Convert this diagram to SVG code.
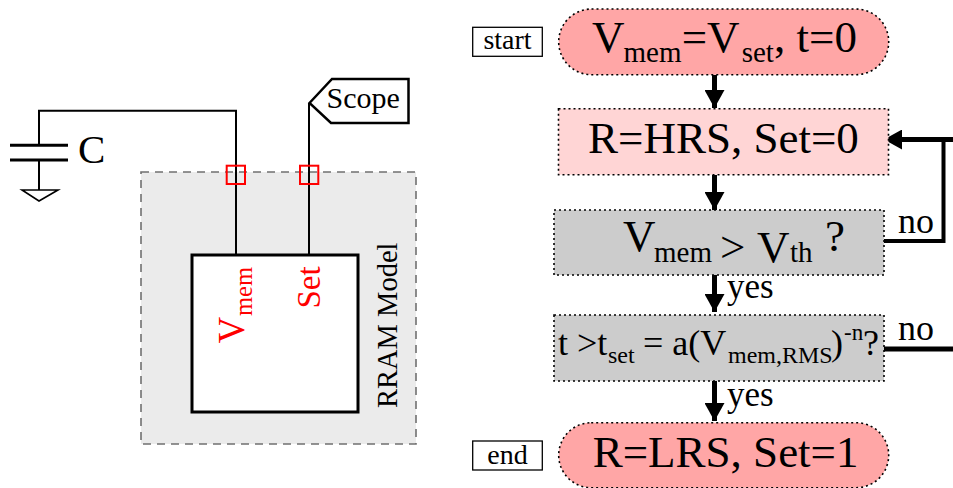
<svg xmlns="http://www.w3.org/2000/svg" width="953" height="488" viewBox="0 0 953 488">
<style>
text{font-family:"Liberation Serif","Times New Roman",serif;fill:#000}
.w{fill:none;stroke:#000;stroke-width:2}
.flow{fill:none;stroke:#000;stroke-width:5}
.dot{stroke:#000;stroke-width:1.6;stroke-dasharray:2 3}
.pill{fill:#ffa6a6}
.pink{fill:#ffd5d5}
.grey{fill:#cccccc}
.tag{fill:#fff;stroke:#000;stroke-width:1.3}
.port{fill:none;stroke:#f00;stroke-width:2}
.red{fill:#f00}
</style>
<defs>
<marker id="arr" markerUnits="userSpaceOnUse" markerWidth="20" markerHeight="20" refX="18" refY="10" orient="auto">
<path d="M0 0L18 10L0 20Z" fill="#000"/>
</marker>
</defs>
<g id="rram-model">
<rect x="141" y="172" width="275" height="272" fill="#ebebeb" stroke="#707070" stroke-width="1.6" stroke-dasharray="8 6"/>
<text transform="translate(397 408) rotate(-90)" font-size="28.5">RRAM Model</text>
</g>
<g id="connectors">
<path class="w" d="M39 145V110.7H236V255"/>
<path class="w" d="M309 255V103"/>
<path class="w" d="M39 160V190"/>
<path class="flow" d="M714.5 75V108" marker-end="url(#arr)"/>
<path class="flow" d="M714.5 175V210" marker-end="url(#arr)"/>
<path class="flow" d="M714.5 275V312" marker-end="url(#arr)"/>
<path class="flow" d="M714.5 381V421" marker-end="url(#arr)"/>
<path class="flow" d="M884 241H943.5V139.5" style="stroke-width:4"/>
<path class="flow" d="M953 139.5H884" marker-end="url(#arr)"/>
<path class="flow" d="M884 349H953"/>
</g>
<g id="capacitor">
<path d="M10 145.3H68M10 160H68" fill="none" stroke="#000" stroke-width="3"/>
<path d="M22 190H58L39 201Z" fill="#fff" stroke="#000" stroke-width="1.6"/>
<text x="78" y="163" font-size="41">C</text>
</g>
<g id="scope">
<path d="M309.5 103L332 79H408.5V123H331Z" fill="#fff" stroke="#000" stroke-width="2.5"/>
<text x="326.5" y="108" font-size="30">Scope</text>
</g>
<g id="device">
<rect x="192" y="255" width="166" height="157" fill="#fff" stroke="#000" stroke-width="3"/>
<rect class="port" x="226.7" y="165.7" width="18.3" height="18.3"/>
<rect class="port" x="300" y="165.7" width="18.3" height="18.3"/>
<text class="red" transform="translate(244 343.5) rotate(-90)" font-size="37">V</text>
<text class="red" transform="translate(252 316) rotate(-90)" font-size="24.5">mem</text>
<text class="red" transform="translate(320 308.5) rotate(-90)" font-size="33">Set</text>
</g>
<g id="start-label"><rect class="tag" x="472.7" y="27.3" width="69.6" height="29"/><text x="507.5" y="49.3" font-size="28" text-anchor="middle">start</text></g>
<g id="end-label"><rect class="tag" x="472.7" y="441" width="69.6" height="29"/><text x="507.5" y="464" font-size="28" text-anchor="middle">end</text></g>
<g id="start">
<rect class="pill dot" x="558.7" y="9" width="330" height="65.7" rx="32.8"/>
<text font-size="45" y="51.7"><tspan x="592">V</tspan><tspan x="623.5" y="61.7" font-size="29">mem</tspan><tspan x="681.7" y="51.7">=V</tspan><tspan x="741.7" y="61.7" font-size="29">set</tspan><tspan x="774" y="51.7">, t=0</tspan></text>
</g>
<g id="reset">
<rect class="pink dot" x="558.5" y="108.7" width="330" height="66"/>
<text x="588" y="153" font-size="45">R=HRS, Set=0</text>
</g>
<g id="check-threshold">
<rect class="grey dot" x="554" y="210" width="330" height="65"/>
<text font-size="45" y="250.5"><tspan x="623">V</tspan><tspan x="654" y="261.7" font-size="29">mem</tspan><tspan x="720">&gt;</tspan><tspan x="757">V</tspan><tspan x="790" y="261.7" font-size="29">th</tspan><tspan x="825" y="250.5">?</tspan></text>
</g>
<g id="check-time">
<rect class="grey dot" x="554" y="315" width="330" height="66"/>
<text font-size="36" y="355"><tspan x="558">t &gt;t</tspan><tspan x="608" y="362.7" font-size="24">set</tspan><tspan x="643" y="355">= a(V</tspan><tspan x="728" y="362.7" font-size="24">mem,RMS</tspan><tspan x="831" y="355">)</tspan><tspan x="844" y="340" font-size="23">-n</tspan><tspan x="863" y="355">?</tspan></text>
</g>
<g id="end">
<rect class="pill dot" x="558.7" y="422.7" width="330" height="65" rx="32.5"/>
<text x="592.7" y="466.7" font-size="45">R=LRS, Set=1</text>
</g>
<g id="labels">
<text x="898" y="232.7" font-size="36">no</text>
<text x="898" y="340" font-size="36">no</text>
<text x="727" y="298" font-size="35">yes</text>
<text x="727" y="405.7" font-size="35">yes</text>
</g>
</svg>
